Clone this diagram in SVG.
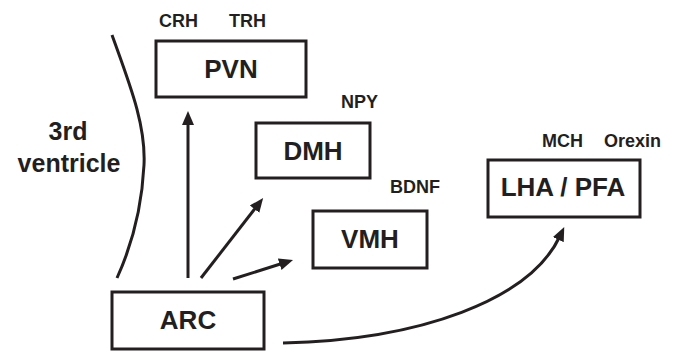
<svg xmlns="http://www.w3.org/2000/svg" width="680" height="358" viewBox="0 0 680 358">
<defs>
<style>
.box{fill:#fff;stroke:#231f20;stroke-width:3}
.lbl{font-family:"Liberation Sans",Arial,sans-serif;font-weight:bold;fill:#231f20}
.big{font-size:26px;text-anchor:middle}
.sm{font-size:18px}
.con{fill:none;stroke:#231f20;stroke-width:3}
</style>
<marker id="ah" markerWidth="14" markerHeight="12" refX="4" refY="6" orient="auto" markerUnits="userSpaceOnUse">
<path d="M0,0 L14,6 L0,12 z" fill="#231f20"/>
</marker>
</defs>
<rect width="680" height="358" fill="#fff"/>
<g id="ventricle">
<path class="con" d="M112,35 C130,85 146,125 144,165 C142,205 132,245 117,278"/>
<text class="lbl" x="68" y="140" font-size="25" text-anchor="middle">3rd</text>
<text class="lbl" x="69" y="172" font-size="25" text-anchor="middle">ventricle</text>
</g>
<g id="connectors">
<line class="con" x1="188" y1="278" x2="188" y2="121" marker-end="url(#ah)"/>
<line class="con" x1="201" y1="278" x2="257" y2="206" marker-end="url(#ah)"/>
<line class="con" x1="233" y1="279" x2="283.5" y2="263" marker-end="url(#ah)"/>
<path class="con" d="M283,343 C420,340 530,300 560,236" marker-end="url(#ah)"/>
</g>
<g id="pvn">
<rect class="box" x="156" y="41" width="150" height="56"/>
<text class="lbl big" x="231" y="78">PVN</text>
<text class="lbl sm" x="159" y="27">CRH</text>
<text class="lbl sm" x="229" y="27">TRH</text>
</g>
<g id="dmh">
<rect class="box" x="256" y="123" width="114" height="55"/>
<text class="lbl big" x="313" y="160">DMH</text>
<text class="lbl sm" x="341" y="108">NPY</text>
</g>
<g id="vmh">
<rect class="box" x="313" y="211" width="114" height="57"/>
<text class="lbl big" x="370" y="248">VMH</text>
<text class="lbl sm" x="390" y="193">BDNF</text>
</g>
<g id="lha">
<rect class="box" x="488" y="160" width="152" height="57"/>
<text class="lbl big" x="563" y="196">LHA / PFA</text>
<text class="lbl sm" x="542" y="147">MCH</text>
<text class="lbl sm" x="604" y="147">Orexin</text>
</g>
<g id="arc">
<rect class="box" x="112" y="292" width="152" height="57"/>
<text class="lbl big" x="188" y="329">ARC</text>
</g>
</svg>
